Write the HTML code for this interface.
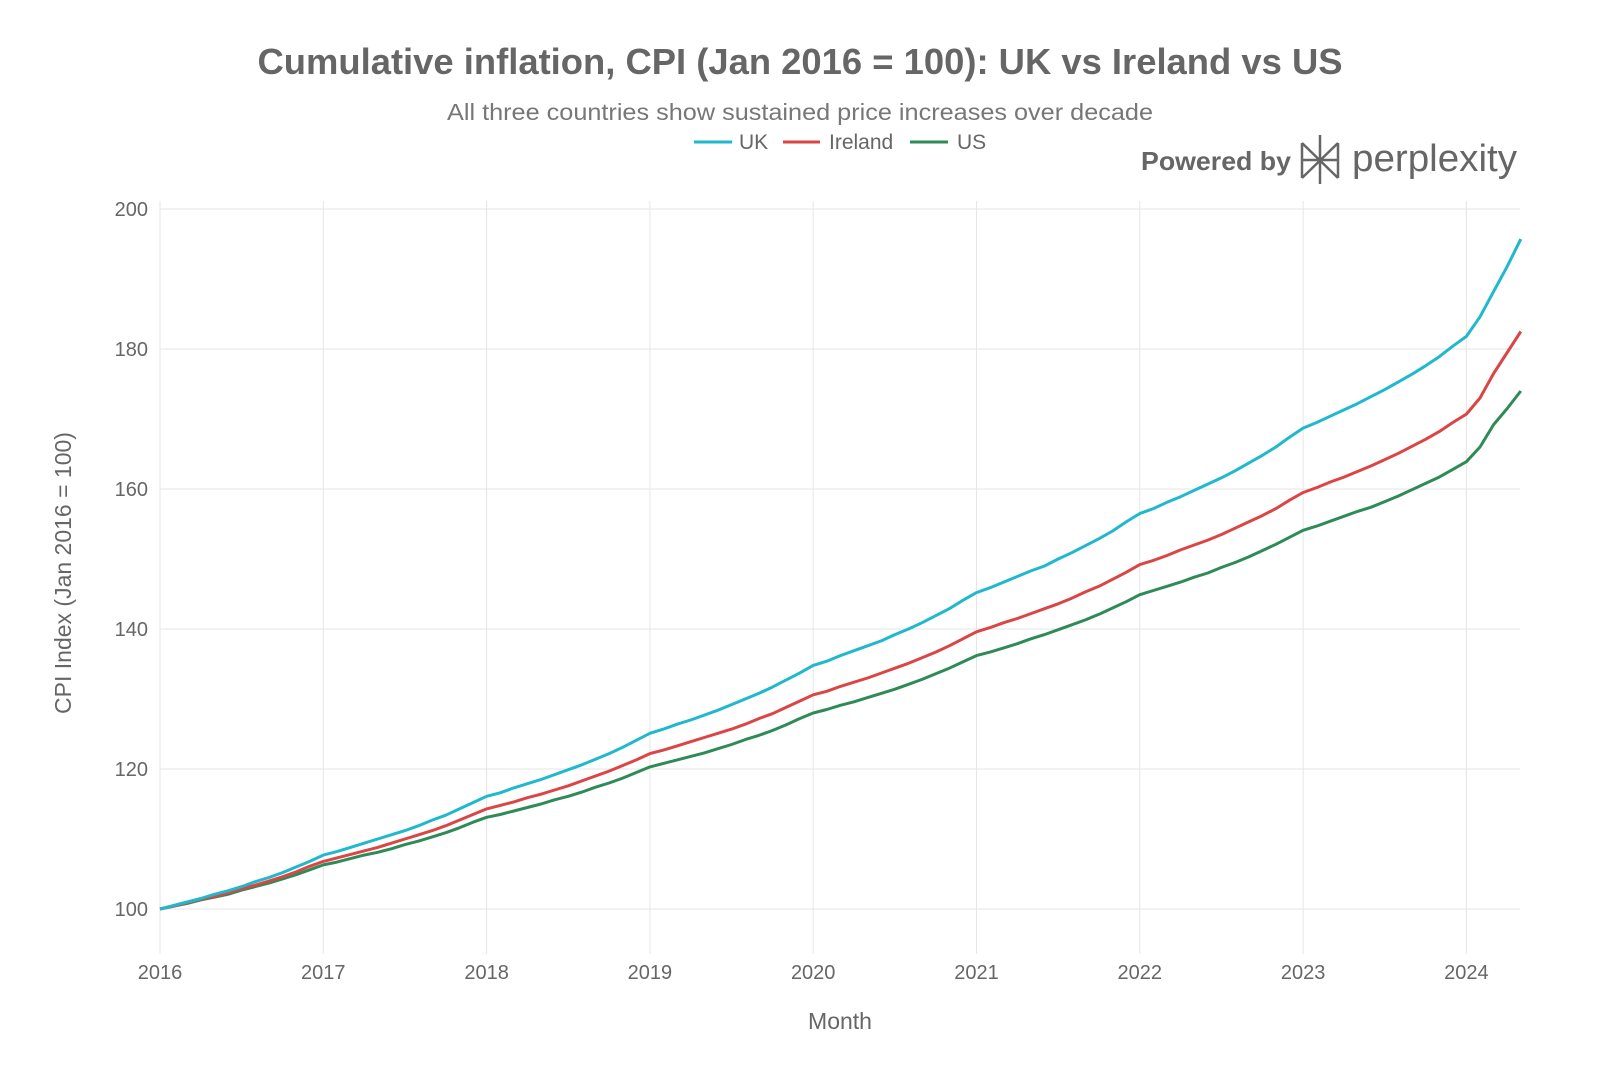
<!DOCTYPE html>
<html><head><meta charset="utf-8"><style>
body{margin:0;background:#fff;width:1600px;height:1066px;overflow:hidden;font-family:"Liberation Sans",sans-serif}
</style></head><body>
<svg id="chart" width="1600" height="1066" xmlns="http://www.w3.org/2000/svg">
<text x="800" y="74" text-anchor="middle" font-size="36" font-weight="bold" fill="#666" textLength="1085" lengthAdjust="spacingAndGlyphs">Cumulative inflation, CPI (Jan 2016 = 100): UK vs Ireland vs US</text>
<text x="800" y="120" text-anchor="middle" font-size="23" fill="#777" textLength="706" lengthAdjust="spacingAndGlyphs">All three countries show sustained price increases over decade</text>
<g>
<g><line x1="694" y1="142" x2="732" y2="142" stroke="#1fb8cd" stroke-width="3"/><text x="739" y="149" font-size="21" fill="#666">UK</text></g>
<g><line x1="783" y1="142" x2="820" y2="142" stroke="#db4545" stroke-width="3"/><text x="829" y="149" font-size="21" fill="#666">Ireland</text></g>
<g><line x1="910" y1="142" x2="948" y2="142" stroke="#2e8b57" stroke-width="3"/><text x="957" y="149" font-size="21" fill="#666">US</text></g>
</g>
<g>
<text x="1141" y="170" font-size="26" font-weight="bold" fill="#666" textLength="150" lengthAdjust="spacingAndGlyphs">Powered by</text>
<g stroke="#666" stroke-width="2.5" fill="none"><path d="M1302 143 L1338 178 M1338 143 L1302 178 M1320 135 V184 M1302 143 V178 M1338 143 V178 M1302 160 H1338"/></g>
<text x="1352" y="171" font-size="38" fill="#666" textLength="165" lengthAdjust="spacingAndGlyphs">perplexity</text>
</g>
<g id="grid"></g>
<g id="axes"></g>
<g id="series"></g>
<text x="840" y="1029" text-anchor="middle" font-size="23" fill="#666">Month</text>
<text transform="translate(71,573) rotate(-90)" text-anchor="middle" font-size="23" fill="#666">CPI Index (Jan 2016 = 100)</text>
</svg>
<script>
const yearTicks=[2016,2017,2018,2019,2020,2021,2022,2023,2024];
const yTicks=[100,120,140,160,180,200];
const ukValues=[100,100.5,101.0,101.5,102.1,102.6,103.2,103.9,104.5,105.2,106.0,106.8,
107.7,108.2,108.8,109.4,110.0,110.6,111.2,111.9,112.7,113.4,114.3,115.2,
116.1,116.6,117.3,117.9,118.5,119.2,119.9,120.6,121.4,122.2,123.1,124.1,
125.1,125.7,126.4,127.0,127.7,128.4,129.2,130.0,130.8,131.7,132.7,133.7,
134.8,135.4,136.2,136.9,137.6,138.3,139.2,140.0,140.9,141.9,142.9,144.1,
145.2,145.9,146.7,147.5,148.3,149.0,150.0,150.9,151.9,152.9,154.0,155.3,
156.5,157.2,158.1,158.9,159.8,160.7,161.6,162.6,163.7,164.8,166.0,167.4,
168.7,169.5,170.4,171.3,172.2,173.2,174.2,175.3,176.4,177.6,178.9,180.4,
181.8,184.6,188.2,191.8,195.7];
const irelandValues=[100,100.4,100.9,101.4,101.8,102.3,102.9,103.4,104.0,104.6,105.3,106.1,
106.8,107.3,107.8,108.3,108.8,109.4,110.0,110.6,111.2,111.9,112.7,113.5,
114.3,114.8,115.3,115.9,116.4,117.0,117.6,118.3,119.0,119.7,120.5,121.3,
122.2,122.7,123.3,123.9,124.5,125.1,125.7,126.4,127.2,127.9,128.8,129.7,
130.6,131.1,131.8,132.4,133.0,133.7,134.4,135.1,135.9,136.7,137.6,138.6,
139.6,140.2,140.9,141.5,142.2,142.9,143.6,144.4,145.3,146.1,147.1,148.1,
149.2,149.8,150.5,151.3,152.0,152.7,153.5,154.4,155.3,156.2,157.2,158.4,
159.5,160.2,161.0,161.7,162.5,163.3,164.2,165.1,166.1,167.1,168.2,169.5,
170.7,173.0,176.5,179.5,182.5];
const usValues=[100,100.4,100.8,101.3,101.7,102.1,102.7,103.2,103.7,104.3,104.9,105.6,
106.3,106.7,107.2,107.7,108.1,108.6,109.2,109.7,110.3,110.9,111.6,112.4,
113.1,113.5,114.0,114.5,115.0,115.6,116.1,116.7,117.4,118.0,118.7,119.5,
120.3,120.8,121.3,121.8,122.3,122.9,123.5,124.2,124.8,125.5,126.3,127.2,
128.0,128.5,129.1,129.6,130.2,130.8,131.4,132.1,132.8,133.6,134.4,135.3,
136.2,136.7,137.3,137.9,138.6,139.2,139.9,140.6,141.3,142.1,143.0,143.9,
144.9,145.5,146.1,146.7,147.4,148.0,148.8,149.5,150.3,151.2,152.1,153.1,
154.1,154.7,155.4,156.1,156.8,157.4,158.2,159.0,159.9,160.8,161.7,162.8,
163.9,166.0,169.2,171.5,174.0];
const NS='http://www.w3.org/2000/svg';
const x0=160,pxPerYear=163.3,y0=909,pxPerUnit=7.0,xEnd=1520;
function xScale(m){return x0+m*pxPerYear/12;}
function yScale(v){return y0-(v-100)*pxPerUnit;}
const grid=document.getElementById('grid'),axes=document.getElementById('axes'),series=document.getElementById('series');
function mk(tag,attrs,parent){const e=document.createElementNS(NS,tag);for(const k in attrs)e.setAttribute(k,attrs[k]);parent.appendChild(e);return e;}
yTicks.forEach(v=>{
  const l=mk('line',{x1:x0,x2:xEnd,y1:yScale(v),y2:yScale(v),stroke:'#e6e6e6','stroke-width':1},grid);
  
  
  const t=mk('text',{x:148,y:yScale(v)+7,'text-anchor':'end','font-size':20,fill:'#666'},axes);
  t.textContent=v;
  
  
});
yearTicks.forEach((yr,i)=>{
  const x=xScale(i*12);
  const l=mk('line',{x1:x,x2:x,y1:201,y2:954,stroke:'#e6e6e6','stroke-width':1},grid);
  
  
  const t=mk('text',{x:x,y:979,'text-anchor':'middle','font-size':20,fill:'#666'},axes);
  t.textContent=yr;
  
  
});
function line(vals,color,name){
  const d=vals.map((v,i)=>(i?'L':'M')+xScale(i).toFixed(1)+' '+yScale(v).toFixed(1)).join(' ');
  const p=mk('path',{d:d,fill:'none',stroke:color,'stroke-width':3,'stroke-linejoin':'round'},series);
  
  
}
line(usValues,'#2e8b57','us-line');
line(irelandValues,'#db4545','ireland-line');
line(ukValues,'#1fb8cd','uk-line');
</script>
</body></html>
